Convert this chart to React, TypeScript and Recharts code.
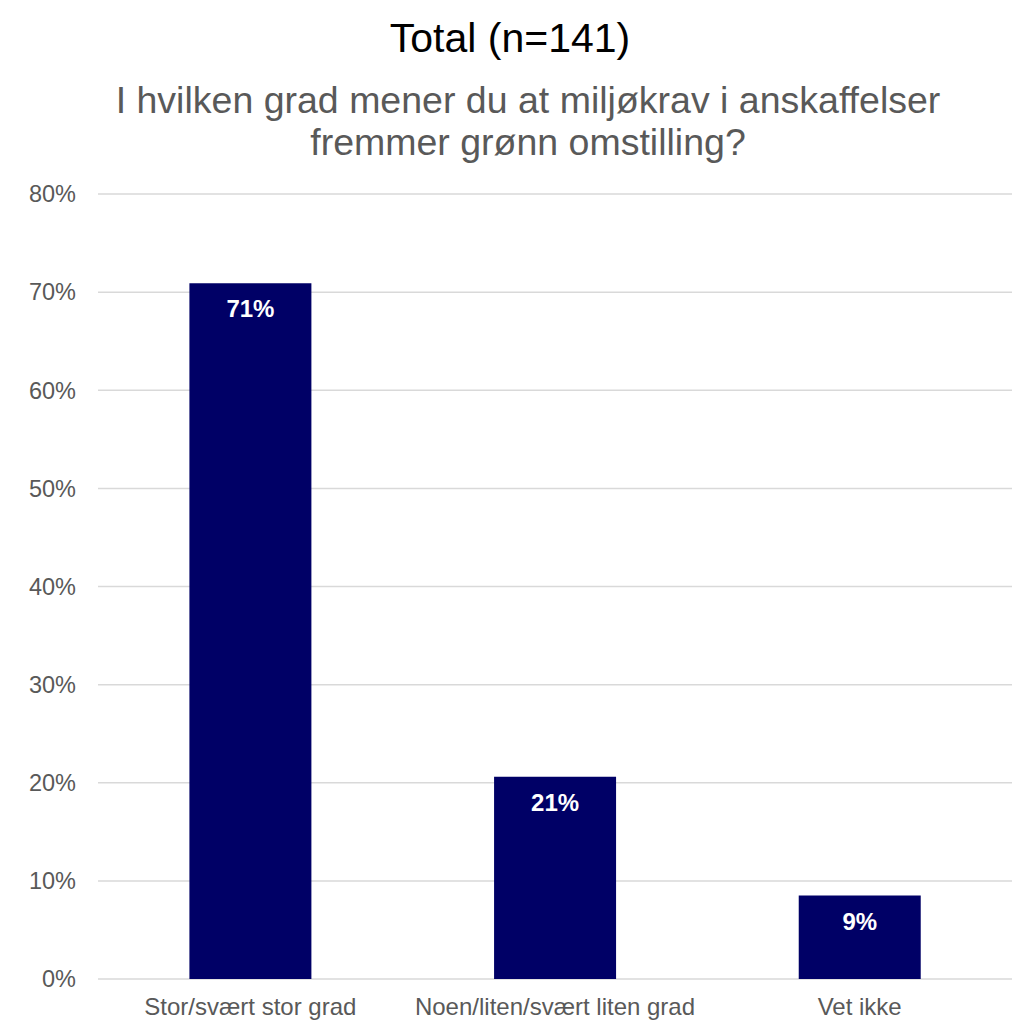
import { BarChart, Bar, XAxis, YAxis, CartesianGrid, LabelList } from 'recharts';

const categories = ['Stor/svært stor grad', 'Noen/liten/svært liten grad', 'Vet ikke'];
const shares = [70.9, 20.6, 8.5];
const shareLabels = ['71%', '21%', '9%'];
const yTicks = [0, 10, 20, 30, 40, 50, 60, 70, 80];

const data = categories.map((name, i) => ({ name, value: shares[i], label: shareLabels[i] }));

const font = '"Liberation Sans", Arial, sans-serif';

export default function App() {
  return (
    <div style={{ position: 'absolute', top: 0, left: 0, width: 1012, height: 1020, fontFamily: font, background: '#fff' }}>
      <div style={{ position: 'absolute', top: 13, left: 8, width: 1004, textAlign: 'center', fontSize: 41, color: '#000', lineHeight: '50px' }}>
        Total (n=141)
      </div>
      <div style={{ position: 'absolute', top: 79, left: 44, width: 968, textAlign: 'center', fontSize: 37.5, color: '#595959', lineHeight: '42px', whiteSpace: 'nowrap' }}>
        I hvilken grad mener du at miljøkrav i anskaffelser
        <br />
        fremmer grønn omstilling?
      </div>
      <div style={{ position: 'absolute', top: 0, left: 0 }}>
        <BarChart width={1012} height={1020} data={data} margin={{ top: 194, right: 0, bottom: 0, left: 0 }} barCategoryGap="30%">
          <CartesianGrid vertical={false} stroke="#d9d9d9" strokeWidth={1.5} />
          <XAxis
            dataKey="name"
            height={41}
            axisLine={false}
            tickLine={false}
            tickMargin={13}
            interval={0}
            tick={{ fontSize: 24, fill: '#595959', fontFamily: font }}
          />
          <YAxis
            width={98}
            domain={[0, 80]}
            ticks={yTicks}
            axisLine={false}
            tickLine={false}
            tickMargin={16}
            tickFormatter={(v) => `${v}%`}
            tick={{ fontSize: 23.5, fill: '#595959', fontFamily: font }}
          />
          <Bar dataKey="value" fill="#000066" isAnimationActive={false}>
            <LabelList dataKey="label" position="insideTop" offset={17} fill="#ffffff" fontSize={24} fontWeight="bold" fontFamily={font} />
          </Bar>
        </BarChart>
      </div>
    </div>
  );
}
